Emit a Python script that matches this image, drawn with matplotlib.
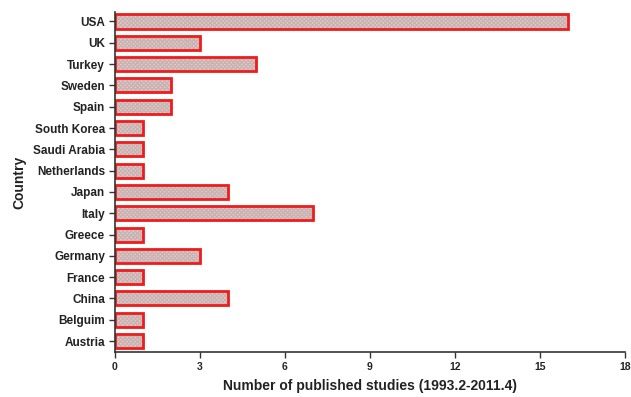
import matplotlib.pyplot as plt

plt.rcParams['font.family'] = ['Liberation Sans', 'DejaVu Sans']

countries = ['Austria', 'Belguim', 'China', 'France', 'Germany', 'Greece',
             'Italy', 'Japan', 'Netherlands', 'Saudi Arabia', 'South Korea',
             'Spain', 'Sweden', 'Turkey', 'UK', 'USA']
studies = [1, 1, 4, 1, 3, 1, 7, 4, 1, 1, 1, 2, 2, 5, 3, 16]

fig = plt.figure(figsize=(6.31, 3.97), dpi=100)
ax = fig.add_axes([0.182, 0.113, 0.808, 0.857])

pos = range(len(countries))
# fine dotted fill, then the red outline on top
ax.barh(pos, studies, height=0.66, color='#e2cccc', edgecolor='#c9b2b2',
        hatch='xxxxxxxx', linewidth=0)
ax.barh(pos, studies, height=0.66, color='none', edgecolor='#ee1c1c',
        linewidth=2)

ax.set_xlim(0, 18)
ax.set_ylim(-0.52, 15.45)
ax.set_xticks(range(0, 19, 3))
ax.set_yticks(list(pos))
ax.set_yticklabels(countries)

for s in ['top', 'right']:
    ax.spines[s].set_visible(False)
for s in ['left', 'bottom']:
    ax.spines[s].set_color('#333333')
    ax.spines[s].set_linewidth(1.2)

ax.tick_params(axis='y', direction='out', length=4, width=1, color='#333333',
               labelsize=8.5, pad=3)
ax.tick_params(axis='x', direction='out', length=4, width=1, color='#333333',
               labelsize=7.5, pad=3)
for lbl in ax.get_yticklabels() + ax.get_xticklabels():
    lbl.set_fontweight('bold')
    lbl.set_color('#222222')

ax.set_xlabel('Number of published studies (1993.2-2011.4)', fontsize=10,
              fontweight='bold', labelpad=5, color='#222222')
ax.set_ylabel('Country', fontsize=10, fontweight='bold', labelpad=5,
              color='#222222')

plt.savefig('out.png', dpi=100)
